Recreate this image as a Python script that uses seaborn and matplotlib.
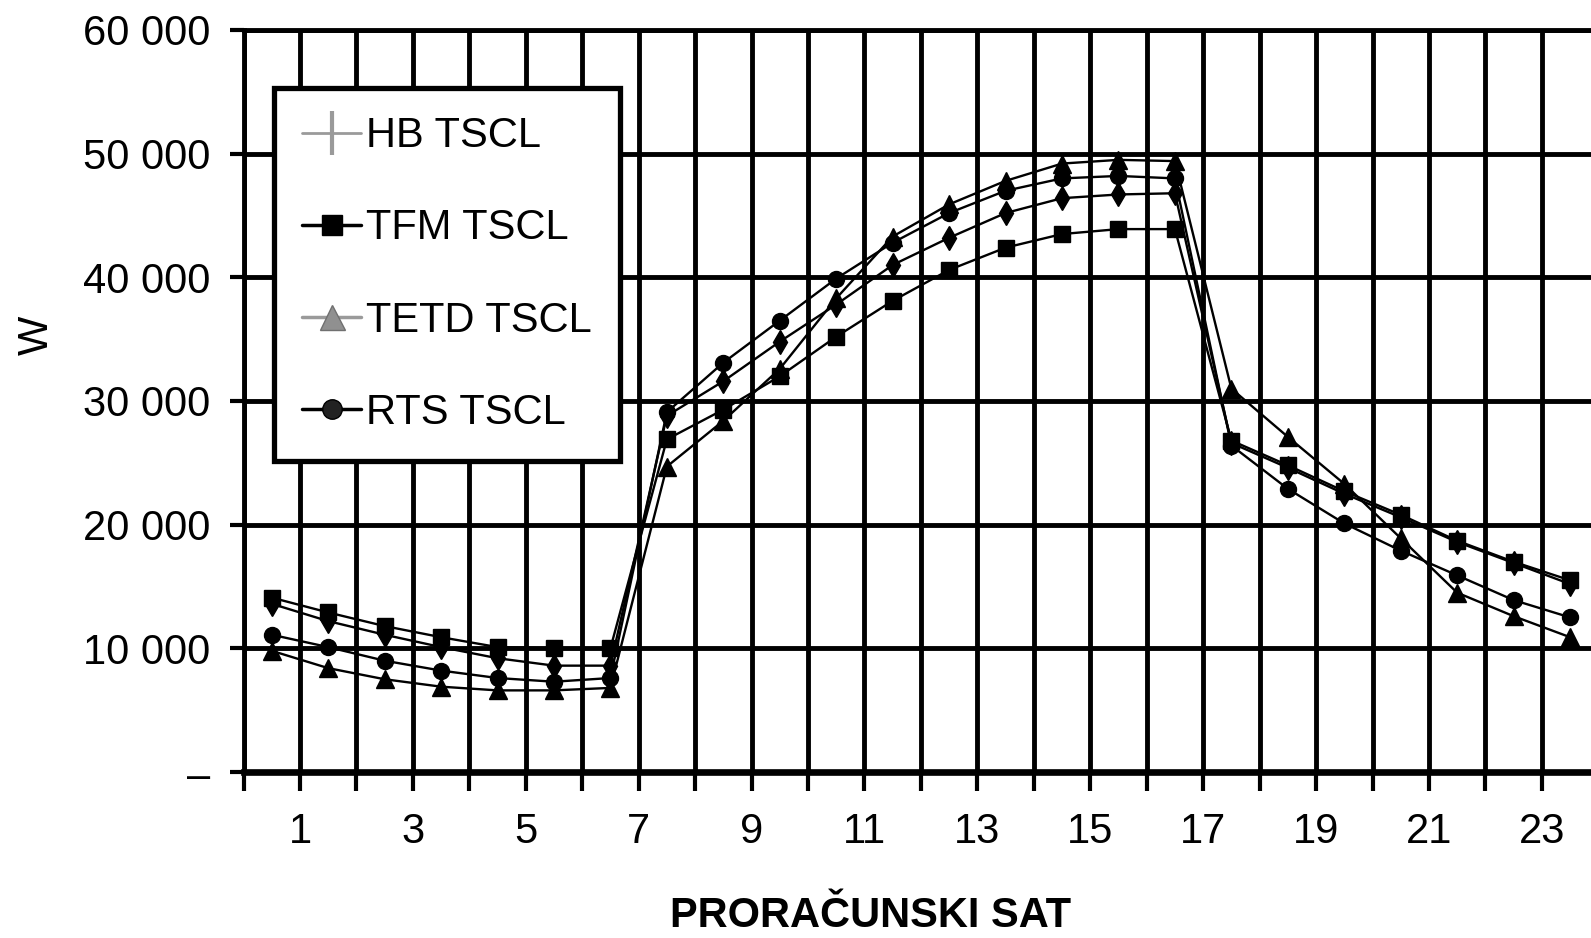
""" Hourly cooling load comparison (HB / TFM / TETD / RTS) """
import numpy as np
import pandas as pd
import matplotlib
matplotlib.use("Agg")
import matplotlib.pyplot as plt
from matplotlib import font_manager
from matplotlib.lines import Line2D
from matplotlib.ticker import FuncFormatter
import seaborn as sns

# data (W)
hours = [0.5, 1.5, 2.5, 3.5, 4.5, 5.5, 6.5, 7.5, 8.5, 9.5, 10.5, 11.5,
         12.5, 13.5, 14.5, 15.5, 16.5, 17.5, 18.5, 19.5, 20.5, 21.5, 22.5, 23.5]
hb_tscl = [13600, 12200, 11100, 10100, 9200, 8600, 8600, 28800, 31600, 34800, 37800, 41000,
           43200, 45200, 46400, 46700, 46800, 26600, 24600, 22500, 20600, 18600, 16900, 15200]
tfm_tscl = [14100, 12900, 11800, 10900, 10100, 10000, 10000, 26900, 29300, 32000, 35200, 38100,
            40600, 42400, 43500, 43900, 43900, 26800, 24800, 22700, 20800, 18700, 17000, 15500]
tetd_tscl = [9800, 8400, 7500, 6900, 6600, 6600, 6800, 24700, 28400, 32600, 38300, 43300,
             45900, 47800, 49200, 49500, 49400, 31000, 27100, 23300, 18900, 14500, 12600, 10900]
rts_tscl = [11100, 10100, 9000, 8200, 7600, 7300, 7600, 29100, 33100, 36500, 39900, 42800,
            45200, 47000, 48000, 48200, 48000, 26400, 22900, 20100, 17900, 15900, 13900, 12500]

series_names = ["HB TSCL", "TFM TSCL", "TETD TSCL", "RTS TSCL"]
x_tick_labels = ["1", "3", "5", "7", "9", "11", "13", "15", "17", "19", "21", "23"]

df = pd.DataFrame({"sat": hours, "HB TSCL": hb_tscl, "TFM TSCL": tfm_tscl,
                   "TETD TSCL": tetd_tscl, "RTS TSCL": rts_tscl})

sns.set_style("white")
plt.rcParams["font.family"] = ["Liberation Sans", "DejaVu Sans"]
for key in ["text.color", "axes.labelcolor", "xtick.color", "ytick.color"]:
    plt.rcParams[key] = "black"

# x label is a bold narrow face in the reference; use it if installed
try:
    font_manager.findfont("Liberation Sans Narrow", fallback_to_default=False)
    xlabel_font, xlabel_size = ["Liberation Sans Narrow", "Liberation Sans"], 34
except ValueError:
    xlabel_font, xlabel_size = ["Liberation Sans", "DejaVu Sans"], 30

W, H, DPI = 1591, 938, 100
fig = plt.figure(figsize=(W / DPI, H / DPI), dpi=DPI)
# x=0 at 243.5 px, one hour = 56.45 px; 60 000 at y=30 px, 0 at y=772 px
ax = fig.add_axes([243.5 / W, 1 - 772 / H, 24 * 56.45 / W, (772 - 30) / H])

# plot markers per series
styles = {
    "HB TSCL": dict(marker="d", markersize=12.5),
    "TFM TSCL": dict(marker="s", markersize=12),
    "TETD TSCL": dict(marker="^", markersize=13),
    "RTS TSCL": dict(marker="o", markersize=11.5),
}
for name in series_names:
    sns.lineplot(data=df, x="sat", y=name, ax=ax, color="black", linewidth=1.7,
                 markeredgecolor="black", markerfacecolor="black", markeredgewidth=1,
                 legend=False, zorder=4, **styles[name])

ax.set_xlim(0, 24)
ax.set_ylim(0, 60000)
ax.set_xticks(range(0, 25))
ax.set_xticklabels([x_tick_labels[i // 2] if i % 2 == 1 and i < 24 else "" for i in range(25)])
ax.set_yticks(range(0, 60001, 10000))
ax.yaxis.set_major_formatter(FuncFormatter(
    lambda v, p: "\u2013" if v == 0 else f"{int(v):,}".replace(",", " ")))

ax.grid(True, color="black", linewidth=3.5)
ax.set_axisbelow(True)
for side in ["left", "top"]:
    ax.spines[side].set_linewidth(3.5)
    ax.spines[side].set_color("black")
ax.spines["bottom"].set_linewidth(4.8)
ax.spines["bottom"].set_color("black")
ax.spines["right"].set_visible(False)

ax.tick_params(axis="x", direction="out", length=14, width=3, pad=15, labelsize=30, bottom=True)
ax.tick_params(axis="y", direction="out", length=10, width=3, pad=14, labelsize=30, left=True)

ax.set_xlabel("PRORAČUNSKI SAT", fontsize=xlabel_size, fontweight="bold", family=xlabel_font)
ax.xaxis.set_label_coords(871 / W, 1 - 896 / H, transform=fig.transFigure)
ax.set_ylabel("W", fontsize=30)
ax.yaxis.set_label_coords(57 / W, 1 - 335 / H, transform=fig.transFigure)

# legend as drawn in the reference (grey HB / TETD symbols)
handles = [
    Line2D([], [], color="#9a9a9a", linewidth=2, marker="|", markersize=32,
           markeredgewidth=3, markeredgecolor="#9a9a9a"),
    Line2D([], [], color="black", linewidth=2.5, marker="s", markersize=14,
           markerfacecolor="black", markeredgecolor="black"),
    Line2D([], [], color="#9a9a9a", linewidth=2.5, marker="^", markersize=18,
           markerfacecolor="#909090", markeredgecolor="#707070"),
    Line2D([], [], color="black", linewidth=2.5, marker="o", markersize=14,
           markerfacecolor="#222222", markeredgecolor="black"),
]
leg = ax.legend(handles, series_names, loc="upper left",
                bbox_to_anchor=(274 / W, 1 - 88 / H), bbox_transform=fig.transFigure,
                fontsize=30, frameon=True, fancybox=False, borderaxespad=0,
                handlelength=1.4, handletextpad=0.12, labelspacing=1.25, borderpad=0.68)
leg.get_frame().set_edgecolor("black")
leg.get_frame().set_linewidth(3.8)
leg.get_frame().set_alpha(1)

fig.savefig("out.png", dpi=DPI)
